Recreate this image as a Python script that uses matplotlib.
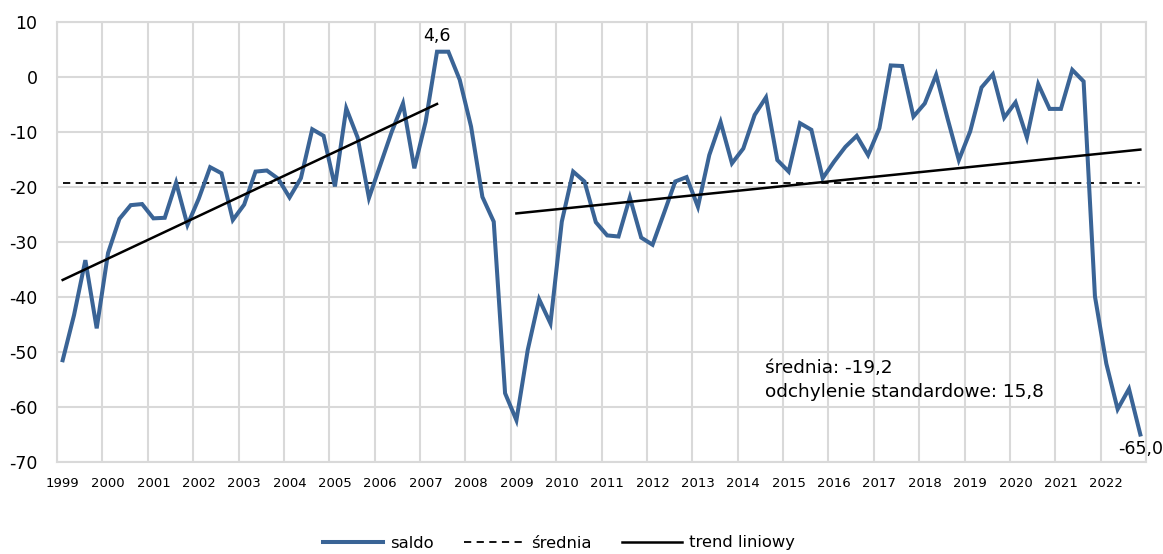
import matplotlib
matplotlib.use("Agg")
import matplotlib.pyplot as plt
from matplotlib.lines import Line2D
import numpy as np

years = list(range(1999, 2023))
saldo = [
    -51.5, -43.3, -33.3, -45.7,   # 1999
    -32.0, -25.8, -23.3, -23.1,   # 2000
    -25.7, -25.6, -19.2, -26.9,   # 2001
    -22.1, -16.4, -17.5, -26.0,   # 2002
    -23.2, -17.2, -17.0, -18.5,   # 2003
    -21.9, -18.4, -9.5, -10.7,    # 2004
    -19.9, -5.7, -11.0, -22.0,    # 2005
    -16.0, -10.0, -4.8, -16.6,    # 2006
    -8.1, 4.6, 4.6, -0.5,         # 2007
    -9.0, -21.8, -26.3, -57.5,    # 2008
    -62.4, -49.6, -40.4, -44.8,   # 2009
    -26.3, -17.2, -19.0, -26.4,   # 2010
    -28.8, -29.0, -21.9, -29.2,   # 2011
    -30.5, -24.8, -19.0, -18.2,   # 2012
    -23.6, -14.2, -8.2, -15.7,    # 2013
    -13.0, -6.9, -3.7, -15.1,     # 2014
    -17.2, -8.4, -9.6, -18.4,     # 2015
    -15.4, -12.7, -10.7, -14.2,   # 2016
    -9.3, 2.1, 2.0, -7.2,         # 2017
    -4.8, 0.4, -7.5, -15.1,       # 2018
    -9.9, -1.9, 0.5, -7.4,        # 2019
    -4.6, -11.0, -1.3, -5.8,      # 2020
    -5.8, 1.3, -0.8, -39.9,       # 2021
    -52.1, -60.4, -56.7, -65.0,   # 2022
]
mean_value = -19.2
std_value = 15.8
# trend segments: (start index, end index, start value, end value)
trend1_idx = [0, 33]
trend1_val = [-36.9, -4.9]
trend2_idx = [40, 95]
trend2_val = [-24.8, -13.2]

blue = "#3A6496"
grid_c = "#D9D9D9"

fig = plt.figure(figsize=(11.63, 5.54), dpi=100)
ax = fig.add_axes([57/1163, 1 - 462/554, (1146-57)/1163, (462-22)/554])

n = len(saldo)
x = np.arange(n)

ax.plot(x, saldo, color=blue, lw=2.9, solid_joinstyle="miter", zorder=4)
ax.plot([0, n-1], [mean_value, mean_value], color="black", lw=1.3,
        ls=(0, (4, 3)), zorder=3)
ax.plot(trend1_idx, trend1_val, color="black", lw=1.8, zorder=5)
ax.plot(trend2_idx, trend2_val, color="black", lw=1.8, zorder=5)

ax.set_xlim(-0.5, n - 0.5)
ax.set_ylim(-70, 10)
ax.set_yticks(range(-70, 11, 10))
ax.set_yticklabels([str(v) for v in range(-70, 11, 10)], fontsize=12.5)
ax.set_xticks(np.arange(-0.5, n, 4), minor=False)
ax.set_xticklabels([])
ax.set_xticks(np.arange(0, n, 4), minor=True)
ax.set_xticklabels([str(y) for y in years], minor=True, fontsize=9.5)
ax.tick_params(axis="x", which="both", length=0, pad=11)
ax.tick_params(axis="y", length=0, pad=14)
ax.grid(True, which="major", color=grid_c, lw=1.5, zorder=0)
for s in ax.spines.values():
    s.set_color(grid_c)
    s.set_linewidth(1.5)

fmt = lambda v: f"{v:.1f}".replace(".", ",")
ax.annotate(fmt(saldo[33]), (33, saldo[33]), xytext=(0, 5), textcoords="offset points",
            ha="center", va="bottom", fontsize=12.5)
ax.annotate(fmt(saldo[-1]), (n-1, saldo[-1]), xytext=(0, -4), textcoords="offset points",
            ha="center", va="top", fontsize=12.5)

ax.text(61.9, -55.1, f"średnia: {fmt(mean_value)}\nodchylenie standardowe: {fmt(std_value)}",
        fontsize=13.3, ha="left", va="center", linespacing=1.45)

handles = [Line2D([], [], color=blue, lw=2.9),
           Line2D([], [], color="black", lw=1.3, ls=(0, (4, 3))),
           Line2D([], [], color="black", lw=1.8)]
fig.legend(handles, ["saldo", "średnia", "trend liniowy"], loc="center",
           bbox_to_anchor=(559/1163, 1 - 543/554), ncol=3, frameon=False,
           fontsize=11.8, handlelength=3.66, columnspacing=1.83, handletextpad=0.43)

fig.savefig("out.png", dpi=100)
